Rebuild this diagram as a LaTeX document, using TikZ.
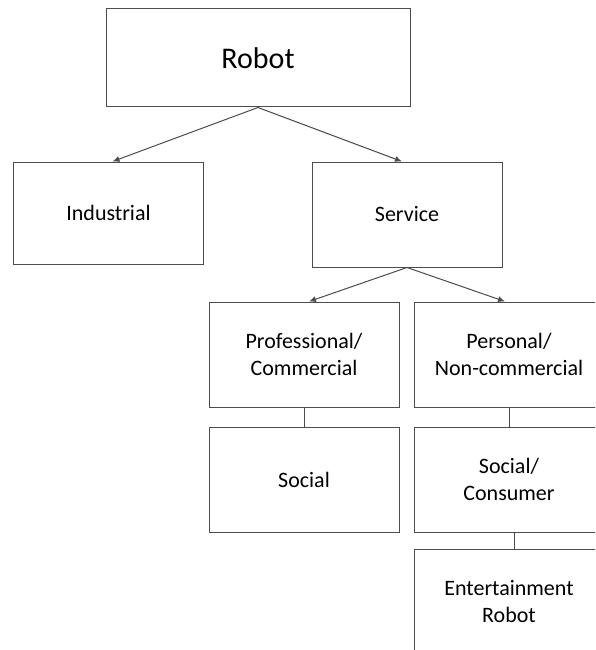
\documentclass[tikz,border=0pt]{standalone}
\usepackage{fontspec}
\setmainfont{Carlito}
\usepackage{tikz}
\usetikzlibrary{arrows,arrows.meta,calc}

\tikzset{
  catbox/.style={draw=black!70, line width=1pt, minimum width=190pt, minimum height=105pt,
    align=center, font=\fontsize{22}{27}\selectfont, text=black, inner sep=2pt},
  rootbox/.style={catbox, minimum width=304pt, minimum height=98pt, font=\fontsize{30}{35}\selectfont},
  branch/.style={draw=black!70, line width=1pt, -{Latex[length=7pt,width=6pt]}},
  link/.style={draw=black!70, line width=1pt}
}

\begin{document}
\begin{tikzpicture}[x=1pt,y=-1pt]
\clip (0,0) rectangle (595,650);
\fill[white] (0,0) rectangle (595,650);
% top level
\node[rootbox] (robot) at (258,58) {Robot};
\node[catbox, minimum height=102pt] (industrial) at (108.5,213) {Industrial};
\node[catbox] (service) at (407,214.5) {Service};
% service branch
\node[catbox] (professional) at (304,354.5) {Professional/\\Commercial};
\node[catbox] (personal) at (509,354.5) {Personal/\\Non-commercial};
\node[catbox] (social) at (304,479.5) {Social};
\node[catbox] (consumer) at (509,479.5) {Social/\\Consumer};
\node[catbox] (entertainment) at (509,601.5) {Entertainment\\Robot};
% connectors
\draw[branch] (robot.south) -- ([xshift=4pt]industrial.north);
\draw[branch] (robot.south) -- ([xshift=-5pt]service.north);
\draw[branch] (service.south) -- ([xshift=5pt]professional.north);
\draw[branch] (service.south) -- ([xshift=-4pt]personal.north);
\draw[link] (professional.south) -- (social.north);
\draw[link] (personal.south) -- (consumer.north);
\draw[link] ([xshift=5pt]consumer.south) -- ([xshift=5pt]entertainment.north);
\end{tikzpicture}
\end{document}
